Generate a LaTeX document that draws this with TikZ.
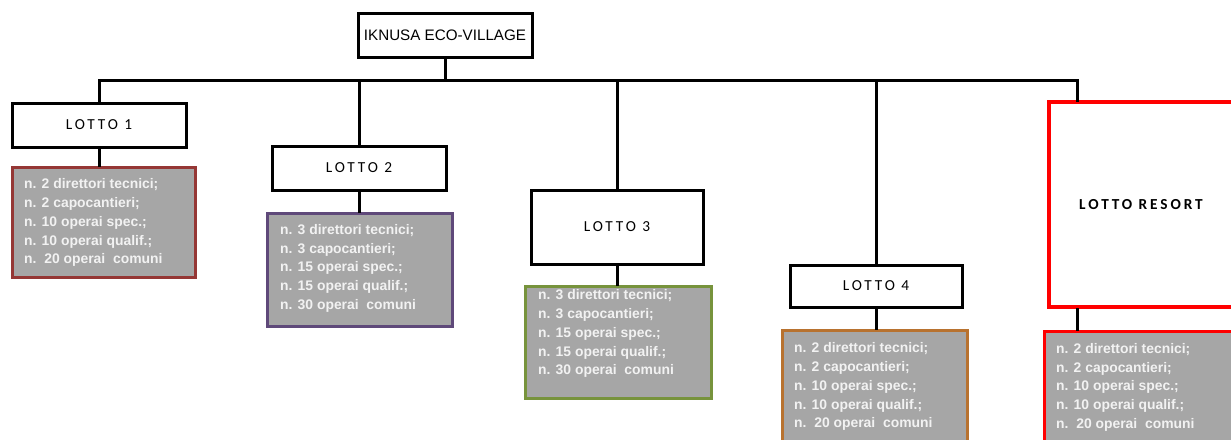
\documentclass[tikz,border=0pt]{standalone}
\usepackage{fontspec}
\setmainfont{Liberation Sans}
\newfontfamily\lottofont[LetterSpace=19]{Carlito}
\usetikzlibrary{positioning}
\definecolor{BoxGray}{HTML}{A6A6A6}
\definecolor{TextWhite}{HTML}{F2F2F2}
\definecolor{EdgeRed}{HTML}{953735}
\definecolor{EdgePurple}{HTML}{5F497A}
\definecolor{EdgeGreen}{HTML}{77933C}
\definecolor{EdgeOrange}{HTML}{B8722F}
\definecolor{ResortRed}{HTML}{FF0000}

\begin{document}
\begin{tikzpicture}[x=1pt, y=-1pt,
  lotto/.style={draw, line width=3pt, fill=white, minimum width=174pt, minimum height=44pt, inner sep=0pt, font=\lottofont\fontsize{15.3}{17}\selectfont},
  staff/.style={draw, line width=3pt, fill=BoxGray, minimum width=185pt, inner sep=0pt},
  crew/.style={inner sep=0pt, align=left, text=TextWhite, font=\bfseries\fontsize{13.9}{18.8}\selectfont},
  link/.style={line width=3pt, line cap=rect}]
  \useasboundingbox (0,0) rectangle (1231,439);
  \clip (0,0) rectangle (1231,439);

  \node[lotto, font=\fontsize{15.2}{17}\selectfont] (village) at (445,35) {IKNUSA ECO-VILLAGE};
  \node[lotto] (lot1) at (99,125) {LOTTO 1};
  \node[lotto] (lot2) at (359,168) {LOTTO 2};
  \node[lotto, minimum width=172pt, minimum height=74pt] (lot3) at (617,227) {LOTTO 3};
  \node[lotto, minimum width=172pt, minimum height=42pt] (lot4) at (876,286) {LOTTO 4};
  \node[lotto, draw=ResortRed, line width=4pt, minimum width=184pt, minimum height=205pt, font=\lottofont\bfseries\fontsize{15.3}{17}\selectfont] (resort) at (1141,204.5) {LOTTO RESORT};

  % squadre per lotto
  \node[staff, draw=EdgeRed, minimum width=183pt, minimum height=110pt] (staff1) at (103.5,222) {};
  \node[staff, draw=EdgePurple, minimum height=113pt] (staff2) at (359.5,269.5) {};
  \node[staff, draw=EdgeGreen, minimum width=186pt, minimum height=112pt] (staff3) at (618,342) {};
  \node[staff, draw=EdgeOrange, minimum height=120pt] (staff4) at (874.5,390) {};
  \node[staff, draw=ResortRed, minimum width=192pt, minimum height=120pt] (staff5) at (1140,391) {};

  \node[crew, below right=13pt and 13.5pt of staff1.north west] (staff1txt) {n. 2 direttori tecnici;\\ n. 2 capocantieri;\\ n. 10 operai spec.;\\ n. 10 operai qualif.;\\ n.~~20 operai~~comuni};
  \node[crew, below right=12.5pt and 14.5pt of staff2.north west] (staff2txt) {n. 3 direttori tecnici;\\ n. 3 capocantieri;\\ n. 15 operai spec.;\\ n. 15 operai qualif.;\\ n. 30 operai~~comuni};
  \node[crew, below right=5pt and 14.5pt of staff3.north west] (staff3txt) {n. 3 direttori tecnici;\\ n. 3 capocantieri;\\ n. 15 operai spec.;\\ n. 15 operai qualif.;\\ n. 30 operai~~comuni};
  \node[crew, below right=14pt and 13.5pt of staff4.north west] (staff4txt) {n. 2 direttori tecnici;\\ n. 2 capocantieri;\\ n. 10 operai spec.;\\ n. 10 operai qualif.;\\ n.~~20 operai~~comuni};
  \node[crew, below right=13.5pt and 13.5pt of staff5.north west] (staff5txt) {n. 2 direttori tecnici;\\ n. 2 capocantieri;\\ n. 10 operai spec.;\\ n. 10 operai qualif.;\\ n.~~20 operai~~comuni};

  % albero
  \coordinate (busL) at (99,80);
  \coordinate (busR) at (1077,80);
  \draw[link] (busL) -- (busR);
  \draw[link] (village) -- (village |- busL);
  \foreach \lot in {lot1,lot2,lot3,lot4}
    \draw[link] (\lot |- busL) -- (\lot);
  \draw[link] (busR) -- (busR |- resort.north);
  \foreach \lot/\st in {lot1/staff1,lot2/staff2,lot3/staff3,lot4/staff4}
    \draw[link] (\lot) -- (\lot |- \st.north);
  \draw[link] (busR |- resort.south) -- (busR |- staff5.north);
\end{tikzpicture}
\end{document}
